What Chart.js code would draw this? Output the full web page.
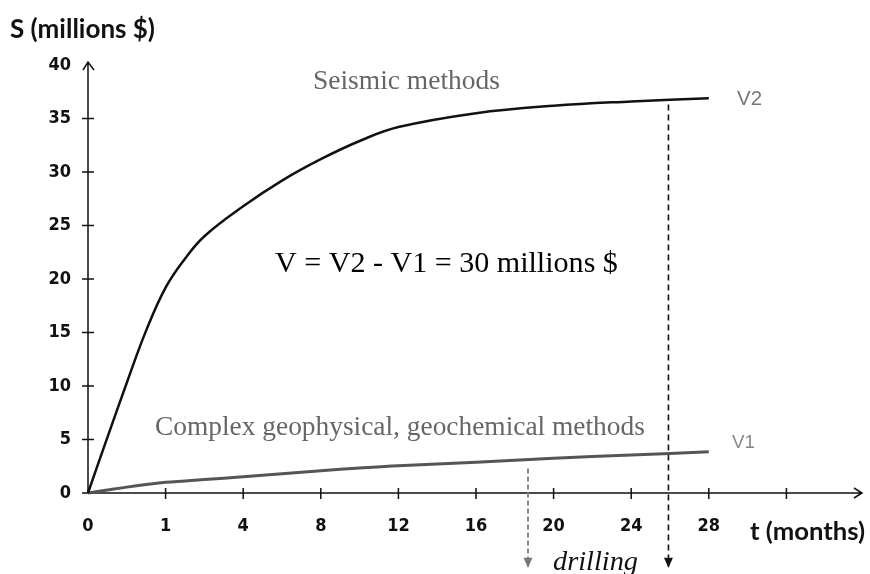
<!DOCTYPE html>
<html>
<head>
<meta charset="utf-8">
<title>Exploration cost</title>
<script src="https://cdn.jsdelivr.net/npm/chart.js@4.4.1/dist/chart.umd.min.js"></script>
<style>
    html, body { margin: 0; padding: 0; background: #fff; }
    #wrap { width: 870px; height: 574px; position: relative; }
</style>
</head>
<body>
<div id="wrap"><canvas id="cost-chart"></canvas></div>
<script>
// Axis positions: the t axis is drawn with equal spacing per label
const tLabels = ['0', '1', '4', '8', '12', '16', '20', '24', '28', '', ''];
const sTicks = [0, 5, 10, 15, 20, 25, 30, 35, 40];

// Curve samples (x = position on t axis, y = millions $)
const curvePos = [0, 0.25, 0.5, 0.75, 1, 1.25, 1.5, 2, 2.5, 3, 3.5, 4, 5, 6, 7, 8];
const seismicV2 = [0, 5.2, 10.3, 15.2, 19.2, 21.9, 24.0, 26.8, 29.2, 31.2, 32.9, 34.2, 35.5, 36.2, 36.6, 36.9];
const complexV1 = [0, 0.28, 0.55, 0.79, 1.0, 1.13, 1.26, 1.52, 1.8, 2.08, 2.33, 2.55, 2.87, 3.25, 3.55, 3.85];

// Drilling markers: position on t axis, top and bottom of the dashed drop line
const drillPos = [5.67, 7.48];
const drillTop = [2.3, 36.3];
const drillBottom = [-6.9, -6.9];
const drillColor = ['#888', '#111'];

document.addEventListener('DOMContentLoaded', function () {
    const ctx = document.getElementById('cost-chart').getContext('2d');

    const tickFont = { family: "'Liberation Sans Narrow', 'DejaVu Sans Condensed', sans-serif", size: 18, weight: 'bold' };

    function toPoints(xs, ys) {
        return xs.map((x, i) => ({ x: x, y: ys[i] }));
    }

    function dropLine(i) {
        return {
            data: [{ x: drillPos[i], y: drillTop[i] }, { x: drillPos[i], y: drillBottom[i] }],
            borderColor: drillColor[i],
            borderWidth: i === 0 ? 2 : 1.6,
            borderDash: i === 0 ? [5, 3] : [6, 4],
            pointRadius: 0,
            clip: false
        };
    }

    // draws text squeezed/stretched to a given width
    function fitText(c, text, x, y, width, style, family, color) {
        c.font = style + ' 20px ' + family;
        const size = 20 * width / c.measureText(text).width;
        c.font = style + ' ' + size.toFixed(2) + 'px ' + family;
        c.fillStyle = color;
        c.fillText(text, x, y);
    }

    const axesPlugin = {
        id: 'axesAndNotes',
        beforeDatasetsDraw(chart) {
            const c = chart.ctx;
            const xs = chart.scales.x;
            const ys = chart.scales.y;
            const x0 = xs.getPixelForValue(0);
            const y0 = ys.getPixelForValue(0);
            const xEnd = xs.getPixelForValue(10) - 2;
            const yEnd = ys.getPixelForValue(40) - 3;

            c.save();
            c.strokeStyle = '#111';
            c.lineWidth = 1.5;
            c.beginPath();
            // y axis with arrow
            c.moveTo(x0, y0);
            c.lineTo(x0, yEnd);
            c.moveTo(x0 - 5, yEnd + 8);
            c.lineTo(x0, yEnd);
            c.lineTo(x0 + 6, yEnd + 8);
            // x axis with arrow
            c.moveTo(x0 - 6, y0);
            c.lineTo(xEnd, y0);
            c.moveTo(xEnd - 8, y0 - 5);
            c.lineTo(xEnd, y0);
            c.lineTo(xEnd - 8, y0 + 5);
            // tick marks
            sTicks.slice(1, -1).forEach(v => {
                const py = ys.getPixelForValue(v);
                c.moveTo(x0 - 6, py);
                c.lineTo(x0 + 6, py);
            });
            for (let i = 1; i <= 9; i++) {
                const px = xs.getPixelForValue(i);
                c.moveTo(px, y0 - 5);
                c.lineTo(px, y0 + 6);
            }
            c.stroke();

            c.textBaseline = 'middle';
            c.textAlign = 'left';
            const sans = "Lato, 'Open Sans', sans-serif";
            const serif = "'Liberation Serif', 'DejaVu Serif', serif";
            fitText(c, 'S (millions $)', 10, 30, 145, 'bold', sans, '#111');
            fitText(c, 't (months)', 750, 532, 115, 'bold', sans, '#111');
            fitText(c, 'Seismic methods', 313, 82, 187, 'normal', serif, '#666');
            fitText(c, 'V = V2 - V1 = 30 millions $', 275, 264, 343, 'normal', serif, '#000');
            fitText(c, 'Complex geophysical, geochemical methods', 155, 428, 490, 'normal', serif, '#666');
            fitText(c, 'V2', 737, 99, 25, 'normal', "'Liberation Sans', Arial, sans-serif", '#777');
            fitText(c, 'V1', 732, 443, 23, 'normal', "'Liberation Sans', Arial, sans-serif", '#888');
            fitText(c, 'drilling', 553, 563, 85, 'italic', serif, '#111');
            c.restore();
        },
        // arrow heads at the foot of the drilling lines
        afterDatasetsDraw(chart) {
            const c = chart.ctx;
            const xs = chart.scales.x;
            const ys = chart.scales.y;
            c.save();
            drillPos.forEach((p, i) => {
                const px = xs.getPixelForValue(p);
                const py = ys.getPixelForValue(drillBottom[i]);
                c.fillStyle = i === 0 ? '#777' : '#111';
                c.beginPath();
                c.moveTo(px - 4.5, py - 9);
                c.lineTo(px + 4.5, py - 9);
                c.lineTo(px, py + 1);
                c.closePath();
                c.fill();
            });
            c.restore();
        }
    };

    new Chart(ctx, {
        type: 'line',
        data: {
            datasets: [
                {
                    label: 'Seismic methods',
                    data: toPoints(curvePos, seismicV2),
                    borderColor: '#111',
                    borderWidth: 2.5,
                    pointRadius: 0,
                    tension: 0.4,
                    clip: false
                },
                {
                    label: 'Complex geophysical, geochemical methods',
                    data: toPoints(curvePos, complexV1),
                    borderColor: '#555',
                    borderWidth: 3,
                    pointRadius: 0,
                    tension: 0.4,
                    clip: false
                },
                dropLine(0),
                dropLine(1)
            ]
        },
        options: {
            responsive: true,
            maintainAspectRatio: false,
            animation: false,
            layout: { padding: { top: 65, right: 6, left: 0, bottom: 0 } },
            plugins: {
                legend: { display: false },
                tooltip: { enabled: false }
            },
            scales: {
                x: {
                    type: 'linear',
                    min: 0,
                    max: 10,
                    grid: { display: false, drawTicks: false },
                    border: { display: false },
                    afterFit: function (scale) {
                        scale.height = 81;
                        scale.paddingLeft = 0;
                        scale.paddingRight = 0;
                    },
                    ticks: {
                        stepSize: 1,
                        padding: 23,
                        color: '#111',
                        font: tickFont,
                        maxRotation: 0,
                        autoSkip: false,
                        callback: function (value) { return tLabels[value] || ''; }
                    }
                },
                y: {
                    min: 0,
                    max: 40,
                    grid: { display: false, drawTicks: false },
                    border: { display: false },
                    afterFit: function (scale) {
                        scale.width = 88;
                        scale.paddingTop = 0;
                        scale.paddingBottom = 0;
                    },
                    ticks: {
                        stepSize: 5,
                        padding: 17,
                        color: '#111',
                        font: tickFont
                    }
                }
            }
        },
        plugins: [axesPlugin]
    });
});
</script>
</body>
</html>
